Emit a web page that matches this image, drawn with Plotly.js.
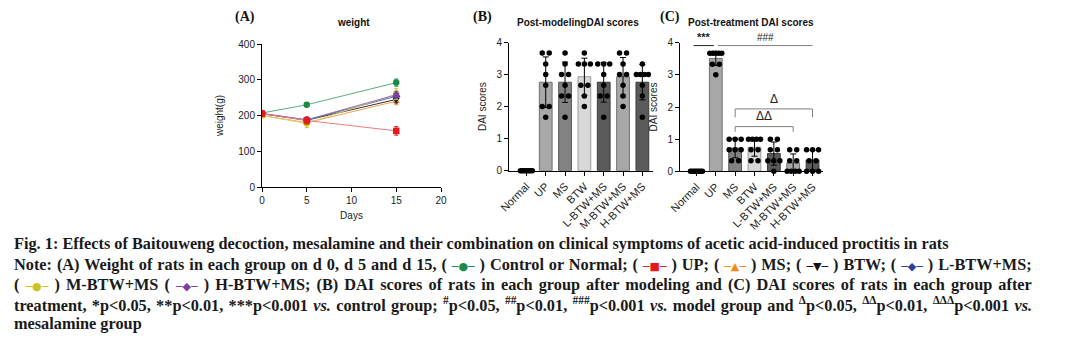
<!DOCTYPE html>
<html><head><meta charset="utf-8">
<script src="https://cdn.plot.ly/plotly-3.0.1.min.js"></script>
<style>body{margin:0;background:#fff}#chart{width:1065px;height:341px}</style>
</head><body><div id="chart"></div>
<script>
// ---------- Panel A data (weight, g) ----------
const days = [0, 5, 15];
const groupNames = ['Control', 'UP', 'MS', 'BTW', 'L-BTW+MS', 'M-BTW+MS', 'H-BTW+MS'];
const weightControl = [207, 230, 292];
const weightUP = [205, 186, 157];
const weightMS = [200, 180, 240];
const weightBTW = [205, 187, 245];
const weightL = [205, 187, 254];
const weightM = [200, 178, 260];
const weightH = [206, 188, 258];
const errControl = [5, 4, 10];
const errUP = [5, 10, 12];
const errMS = [4, 8, 10];
const errBTW = [5, 6, 10];
const errL = [4, 5, 10];
const errM = [5, 12, 15];
const errH = [5, 6, 10];

// ---------- Panels B & C data (DAI scores) ----------
const categories = ['Normal', 'UP', 'MS', 'BTW', 'L-BTW+MS', 'M-BTW+MS', 'H-BTW+MS'];
const meanModel = [0, 2.76, 2.76, 2.93, 2.76, 2.93, 2.76];
const sdModel = [0, 0.79, 0.63, 0.58, 0.62, 0.6, 0.55];
const meanTreat = [0, 3.51, 0.72, 0.75, 0.55, 0.26, 0.35];
const sdTreat = [0, 0.22, 0.3, 0.28, 0.36, 0.28, 0.3];

const modelNormal = [0, 0, 0, 0, 0, 0, 0, 0];
const modelUP = [3.67, 3.67, 3.33, 3, 2.67, 2, 2, 1.67];
const modelMS = [3.67, 3.33, 3, 3, 2.67, 2.33, 2.33, 1.67];
const modelBTW = [3.67, 3.33, 3.33, 3.33, 2.67, 2.67, 2.33, 2];
const modelL = [3.33, 3.33, 3.33, 3, 2.67, 2.33, 2.33, 1.67];
const modelM = [3.67, 3.67, 3.33, 3, 3, 2.67, 2.33, 2];
const modelH = [3.33, 3, 3, 3, 3, 2.67, 2.33, 1.67];

const treatNormal = [0, 0, 0, 0, 0, 0, 0, 0];
const treatUP = [3.67, 3.67, 3.67, 3.67, 3.67, 3.33, 3.33, 3];
const treatMS = [1, 1, 1, 0.67, 0.67, 0.67, 0.33, 0.33];
const treatBTW = [1, 1, 1, 1, 0.67, 0.67, 0.33, 0.33];
const treatL = [1, 1, 0.67, 0.67, 0.33, 0.33, 0.33, 0];
const treatM = [0.67, 0.67, 0.33, 0.33, 0, 0, 0, 0];
const treatH = [0.67, 0.67, 0.67, 0.33, 0.33, 0, 0, 0];

// ---------- styles ----------
const SANS = 'Liberation Sans, Arial, sans-serif';
const SERIF = 'Liberation Serif, Times New Roman, serif';
const lineColors = ['#1a8a47', '#e41a1c', '#f5891f', '#111111', '#2c3e9c', '#c9c41c', '#7d3f9f'];
const lineStroke = ['#5aae7e', '#f07a7a', '#f5a050', '#333333', '#5565b5', '#d8d460', '#9a70b8'];
const symbols = ['circle', 'square', 'triangle-up', 'triangle-down', 'diamond', 'circle', 'hexagon'];
const barFill = ['#000000', '#a8a8a8', '#828282', '#d8d8d8', '#5a5a5a', '#a8a8a8', '#5a5a5a'];
const barEdge = ['#000000', '#707070', '#555555', '#9a9a9a', '#3a3a3a', '#707070', '#3a3a3a'];
const PX_PER_CAT = 19.35;

const traces = [];
const weights = [weightControl, weightUP, weightMS, weightBTW, weightL, weightM, weightH];
const errs = [errControl, errUP, errMS, errBTW, errL, errM, errH];
const drawOrder = [0, 2, 3, 4, 5, 6, 1];
drawOrder.forEach(i => {
  traces.push({
    type: 'scatter', mode: 'lines+markers', x: days, y: weights[i], name: groupNames[i],
    xaxis: 'x', yaxis: 'y',
    line: {color: lineStroke[i], width: 1},
    marker: {color: lineColors[i], symbol: symbols[i], size: 6.5},
    error_y: {type: 'data', array: errs[i], visible: true, color: lineColors[i], thickness: 1, width: 2},
    showlegend: false, hoverinfo: 'skip'
  });
});

function spread(groups) {
  const xs = [], ys = [];
  groups.forEach((vals, i) => {
    const counts = {}, seen = {};
    vals.forEach(v => { const k = v.toFixed(2); counts[k] = (counts[k] || 0) + 1; });
    vals.forEach(v => {
      const k = v.toFixed(2), n = counts[k];
      const j = seen[k] = (seen[k] || 0) + 1;
      let off = 0;
      if (n > 1) {
        const w = Math.min((n - 1) * 7, 12);
        off = -w / 2 + w * (j - 1) / (n - 1);
      }
      xs.push(i + off / PX_PER_CAT); ys.push(v);
    });
  });
  return {xs, ys};
}

function barPanel(means, sds, groups, xa, ya) {
  const idx = categories.map((c, i) => i);
  traces.push({
    type: 'bar', x: idx, y: means, xaxis: xa, yaxis: ya, width: 0.66,
    marker: {color: barFill, line: {color: barEdge, width: 1}},
    error_y: {type: 'data', array: sds, visible: true, color: '#000', thickness: 1, width: 3},
    showlegend: false, hoverinfo: 'skip'
  });
  const d = spread(groups);
  traces.push({
    type: 'scatter', mode: 'markers', x: d.xs, y: d.ys, xaxis: xa, yaxis: ya,
    marker: {color: '#000', size: 5.5}, showlegend: false, hoverinfo: 'skip', cliponaxis: false
  });
}
barPanel(meanModel, sdModel, [modelNormal, modelUP, modelMS, modelBTW, modelL, modelM, modelH], 'x2', 'y2');
barPanel(meanTreat, sdTreat, [treatNormal, treatUP, treatMS, treatBTW, treatL, treatM, treatH], 'x3', 'y3');

const axBase = {
  showline: true, linecolor: '#000', linewidth: 1, ticks: 'outside', ticklen: 4, tickcolor: '#000',
  tickfont: {family: SANS, size: 10, color: '#222'}, showgrid: false, zeroline: false, fixedrange: true
};
const catAxis = (dom, rng) => Object.assign({}, axBase, {
  domain: dom, range: rng, tickvals: categories.map((c, i) => i), ticktext: categories, tickangle: -45,
  tickfont: {family: SANS, size: 11, color: '#222'}
});
const daiAxis = (dom, anchor) => Object.assign({}, axBase, {
  domain: dom, range: [0, 4], tickvals: [0, 1, 2, 3, 4], anchor: anchor,
  title: {text: 'DAI scores', font: {family: SANS, size: 10, color: '#222'}, standoff: 7}
});

const layout = {
  width: 1065, height: 341, margin: {l: 0, r: 0, t: 0, b: 0},
  paper_bgcolor: '#fff', plot_bgcolor: 'rgba(0,0,0,0)', showlegend: false,
  font: {family: SANS, size: 10, color: '#222'},
  xaxis: Object.assign({}, axBase, {domain: [262 / 1065, 441 / 1065], range: [0, 20], tickvals: [0, 5, 10, 15, 20], anchor: 'y',
    title: {text: 'Days', font: {family: SANS, size: 10, color: '#222'}, standoff: 6}}),
  yaxis: Object.assign({}, axBase, {domain: [154 / 341, 297 / 341], range: [0, 400], tickvals: [0, 100, 200, 300, 400], anchor: 'x',
    title: {text: 'weight(g)', font: {family: SANS, size: 10, color: '#222'}, standoff: 12}}),
  xaxis2: Object.assign(catAxis([509 / 1065, 653 / 1065], [-0.9, 6.55]), {anchor: 'y2'}),
  yaxis2: daiAxis([170.3 / 341, 298.5 / 341], 'x2'),
  xaxis3: Object.assign(catAxis([680 / 1065, 823 / 1065], [-0.85, 6.54]), {anchor: 'y3'}),
  yaxis3: daiAxis([169.7 / 341, 298.3 / 341], 'x3'),
  shapes: [], annotations: []
};

// significance marks
const grey = '#808080';
function hline(xr, yr, x0, x1, y, color) {
  layout.shapes.push({type: 'line', xref: xr, yref: yr, x0: x0, x1: x1, y0: y, y1: y, line: {color: color, width: 1}});
}
function bracket(xr, yr, x0, x1, yTop, yLeg) {
  layout.shapes.push({type: 'path', xref: xr, yref: yr,
    path: `M ${x0} ${yLeg} L ${x0} ${yTop} L ${x1} ${yTop} L ${x1} ${yLeg}`, line: {color: grey, width: 1}});
}
function label(xr, yr, x, y, text, size, anchor) {
  layout.annotations.push({xref: xr, yref: yr, x: x, y: y, text: text, showarrow: false,
    xanchor: 'center', yanchor: anchor || 'bottom', font: {family: SANS, size: size || 10, color: '#222'}});
}
hline('x2', 'y2', -0.05, 0.95, 4.09, '#222');
label('x2', 'y2', 0.45, 4.1, '<b>***</b>', 11);
hline('x3', 'y3', -0.15, 0.9, 3.91, '#222');
label('x3', 'y3', 0.38, 3.92, '<b>***</b>', 11);
hline('x3', 'y3', 1.1, 6.0, 3.91, grey);
label('x3', 'y3', 3.55, 3.92, '###', 10);
bracket('x3', 'y3', 2, 6, 1.94, 1.68);
label('x3', 'y3', 4.0, 1.98, 'Δ', 12);
bracket('x3', 'y3', 2, 5, 1.39, 1.23);
label('x3', 'y3', 3.5, 1.43, 'ΔΔ', 12);

// panel titles
function ptext(x, y, text, font) {
  layout.annotations.push({xref: 'paper', yref: 'paper', x: x / 1065, y: 1 - y / 341, text: text, showarrow: false,
    xanchor: 'center', yanchor: 'middle', font: font});
}
const tFont = {family: SANS, size: 10, color: '#111'};
const pFont = {family: SERIF, size: 14, color: '#111'};
ptext(353, 23, '<b>weight</b>', tFont);
ptext(245, 17, '<b>(A)</b>', pFont);
ptext(578, 23, '<b>Post-modelingDAI scores</b>', tFont);
ptext(482, 17, '<b>(B)</b>', pFont);
ptext(751, 23, '<b>Post-treatment DAI scores</b>', tFont);
ptext(670, 17, '<b>(C)</b>', pFont);

// ---------- caption ----------
const CAP_SIZE = 16.3;
const mk = (color, glyph) => ({k: 'mk', t: '─' + glyph + '─', c: color});
const captionLines = [
  [{k: 'n', t: 'Fig. 1: Effects of Baitouweng decoction, mesalamine and their combination on clinical symptoms of acetic acid-induced proctitis in rats'}],
  [{k: 'n', t: 'Note: (A) Weight of rats in each group on d 0, d 5 and d 15, ( '}, mk(lineColors[0], '●'),
   {k: 'n', t: ' ) Control or Normal; ( '}, mk(lineColors[1], '■'), {k: 'n', t: ' ) UP; ( '}, mk(lineColors[2], '▲'),
   {k: 'n', t: ' ) MS; ( '}, mk(lineColors[3], '▼'), {k: 'n', t: ' ) BTW; ( '}, mk(lineColors[4], '◆'), {k: 'n', t: ' ) L-BTW+MS;'}],
  [{k: 'n', t: '( '}, mk(lineColors[5], '●'), {k: 'n', t: ' ) M-BTW+MS ( '}, mk(lineColors[6], '◆'),
   {k: 'n', t: ' ) H-BTW+MS; (B) DAI scores of rats in each group after modeling and (C) DAI scores of rats in each group after'}],
  [{k: 'n', t: 'treatment, *p<0.05, **p<0.01, ***p<0.001 '}, {k: 'i', t: 'vs.'}, {k: 'n', t: ' control group; '},
   {k: 's', t: '#'}, {k: 'n', t: 'p<0.05, '}, {k: 's', t: '##'}, {k: 'n', t: 'p<0.01, '}, {k: 's', t: '###'}, {k: 'n', t: 'p<0.001 '},
   {k: 'i', t: 'vs.'}, {k: 'n', t: ' model group and '}, {k: 's', t: 'Δ'}, {k: 'n', t: 'p<0.05, '}, {k: 's', t: 'ΔΔ'},
   {k: 'n', t: 'p<0.01, '}, {k: 's', t: 'ΔΔΔ'}, {k: 'n', t: 'p<0.001 '}, {k: 'i', t: 'vs.'}],
  [{k: 'n', t: 'mesalamine group'}]
];
const justify = [false, true, true, true, false];
const lineY = [243, 264, 284, 304, 323];
const ctx = document.createElement('canvas').getContext('2d');
const esc = s => s.replace(/&/g, '&amp;').replace(/</g, '&lt;').replace(/>/g, '&gt;');
function segFont(s) {
  if (s.k === 'mk') return '11px "DejaVu Sans"';
  if (s.k === 's') return 'bold ' + (CAP_SIZE * 0.7) + 'px "Liberation Serif"';
  if (s.k === 'i') return 'italic bold ' + CAP_SIZE + 'px "Liberation Serif"';
  return 'bold ' + CAP_SIZE + 'px "Liberation Serif"';
}
captionLines.forEach((segs, li) => {
  let w = 0, spaces = 0;
  segs.forEach(s => {
    ctx.font = segFont(s); w += ctx.measureText(s.t).width;
    if (s.k !== 'mk') spaces += (s.t.match(/ /g) || []).length;
  });
  const ws = justify[li] ? Math.max(0, (1018 - w) / spaces) : 0;
  const body = segs.map(s => {
    if (s.k === 'mk') return `<span style="color:${s.c};font-family:DejaVu Sans;font-size:11px;font-weight:normal">${s.t}</span>`;
    if (s.k === 's') return `<sup>${esc(s.t)}</sup>`;
    if (s.k === 'i') return `<i>${esc(s.t)}</i>`;
    return esc(s.t);
  }).join('');
  layout.annotations.push({xref: 'paper', yref: 'paper', x: 12 / 1065, y: 1 - lineY[li] / 341,
    xanchor: 'left', yanchor: 'middle', showarrow: false, align: 'left',
    text: `<b><span style="word-spacing:${ws.toFixed(2)}px">${body}</span></b>`,
    font: {family: SERIF, size: CAP_SIZE, color: '#1a1a1a'}});
});

Plotly.newPlot('chart', traces, layout, {staticPlot: true, displayModeBar: false});
</script></body></html>
